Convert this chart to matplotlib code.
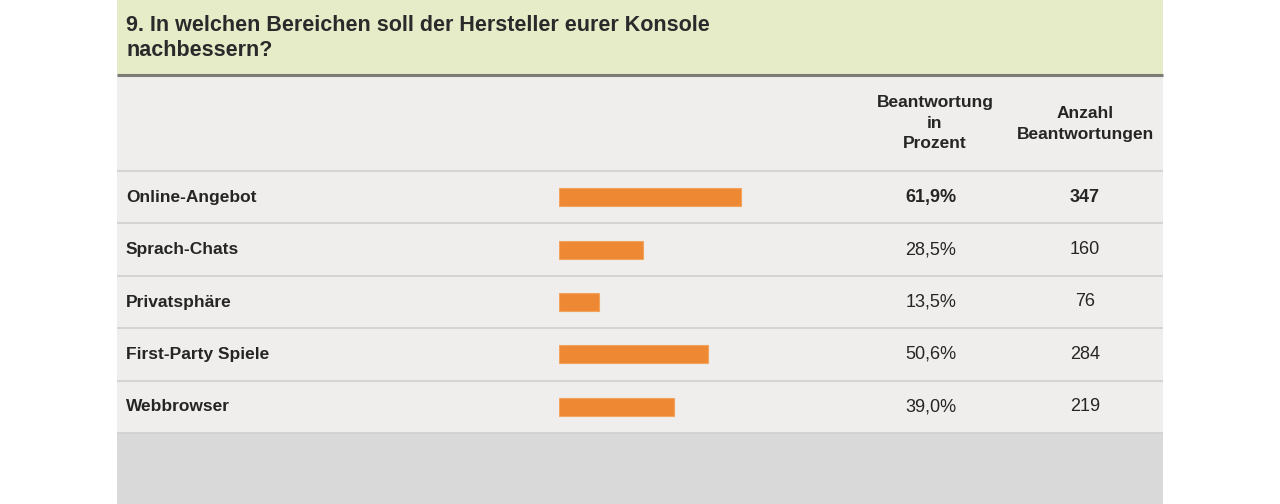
import matplotlib.pyplot as plt
from matplotlib.patches import Rectangle

# Umfrage-Daten
categories = ["Online-Angebot", "Sprach-Chats", "Privatsphäre", "First-Party Spiele", "Webbrowser"]
percent = [61.9, 28.5, 13.5, 50.6, 39.0]
counts = [347, 160, 76, 284, 219]
percent_labels = ["61,9%", "28,5%", "13,5%", "50,6%", "39,0%"]

title = "9. In welchen Bereichen soll der Hersteller eurer Konsole\nnachbessern?"
head_pct = "Beantwortung\nin\nProzent"
head_cnt = "Anzahl\nBeantwortungen"

W, H = 1280, 504
fig = plt.figure(figsize=(W / 100, H / 100), dpi=100)
fig.patch.set_facecolor("white")

# Hintergrund-Achse in Pixelkoordinaten
bg = fig.add_axes([0, 0, 1, 1])
bg.set_xlim(0, W)
bg.set_ylim(H, 0)
bg.axis("off")

left, right = 117, 1163
table_top, table_bottom = 171, 433
row_h = (table_bottom - table_top) / len(categories)

bg.add_patch(Rectangle((left, 0), right - left, 74, color="#e6ebc8", lw=0))
bg.add_patch(Rectangle((left, 74), right - left, table_bottom - 74, color="#efeeec", lw=0))
bg.add_patch(Rectangle((left, table_bottom), right - left, H - table_bottom, color="#d9d9d9", lw=0))
bg.plot([left, right], [74.5, 74.5], color="#7c7c74", lw=2.2, solid_capstyle="butt")

for i in range(len(categories) + 1):
    y = table_top + i * row_h
    bg.plot([left, right], [y, y], color="#d2d2d2", lw=1.3, solid_capstyle="butt")

font = ["Liberation Sans", "DejaVu Sans"]
txt = "#252525"

bg.text(126, 38, title, fontsize=15.5, fontweight="bold", family=font, color="#2a2a2a",
        va="center", ha="left", linespacing=1.2)
bg.text(935, 123, head_pct, fontsize=12.5, fontweight="bold", family=font, color=txt,
        ha="center", va="center", linespacing=1.45)
bg.text(1085, 124, head_cnt, fontsize=12.5, fontweight="bold", family=font, color=txt,
        ha="center", va="center", linespacing=1.45)

for i, (cat, pl, c) in enumerate(zip(categories, percent_labels, counts)):
    yc = table_top + (i + 0.5) * row_h
    bg.text(126, yc, cat, fontsize=12.5, fontweight="bold", family=font, color=txt,
            ha="left", va="center")
    w = "bold" if i == 0 else "normal"
    bg.text(931, yc, pl, fontsize=13, fontweight=w, family=font, color=txt,
            ha="center", va="center")
    bg.text(1085, yc, str(c), fontsize=13, fontweight=w, family=font, color=txt,
            ha="center", va="center")

# Balken-Achse: 0..100 % über 294 px
bar_left = 559
bar_w = 294
ax = fig.add_axes([bar_left / W, 1 - table_bottom / H, bar_w / W, (table_bottom - table_top) / H])
ax.set_xlim(0, 100)
ax.set_ylim(len(categories) - 0.5, -0.5)
ax.axis("off")
ax.barh(range(len(categories)), percent, height=0.34, color="#ee8833", edgecolor="#f2a35e", lw=0.8)

fig.savefig("out.png", dpi=100)
